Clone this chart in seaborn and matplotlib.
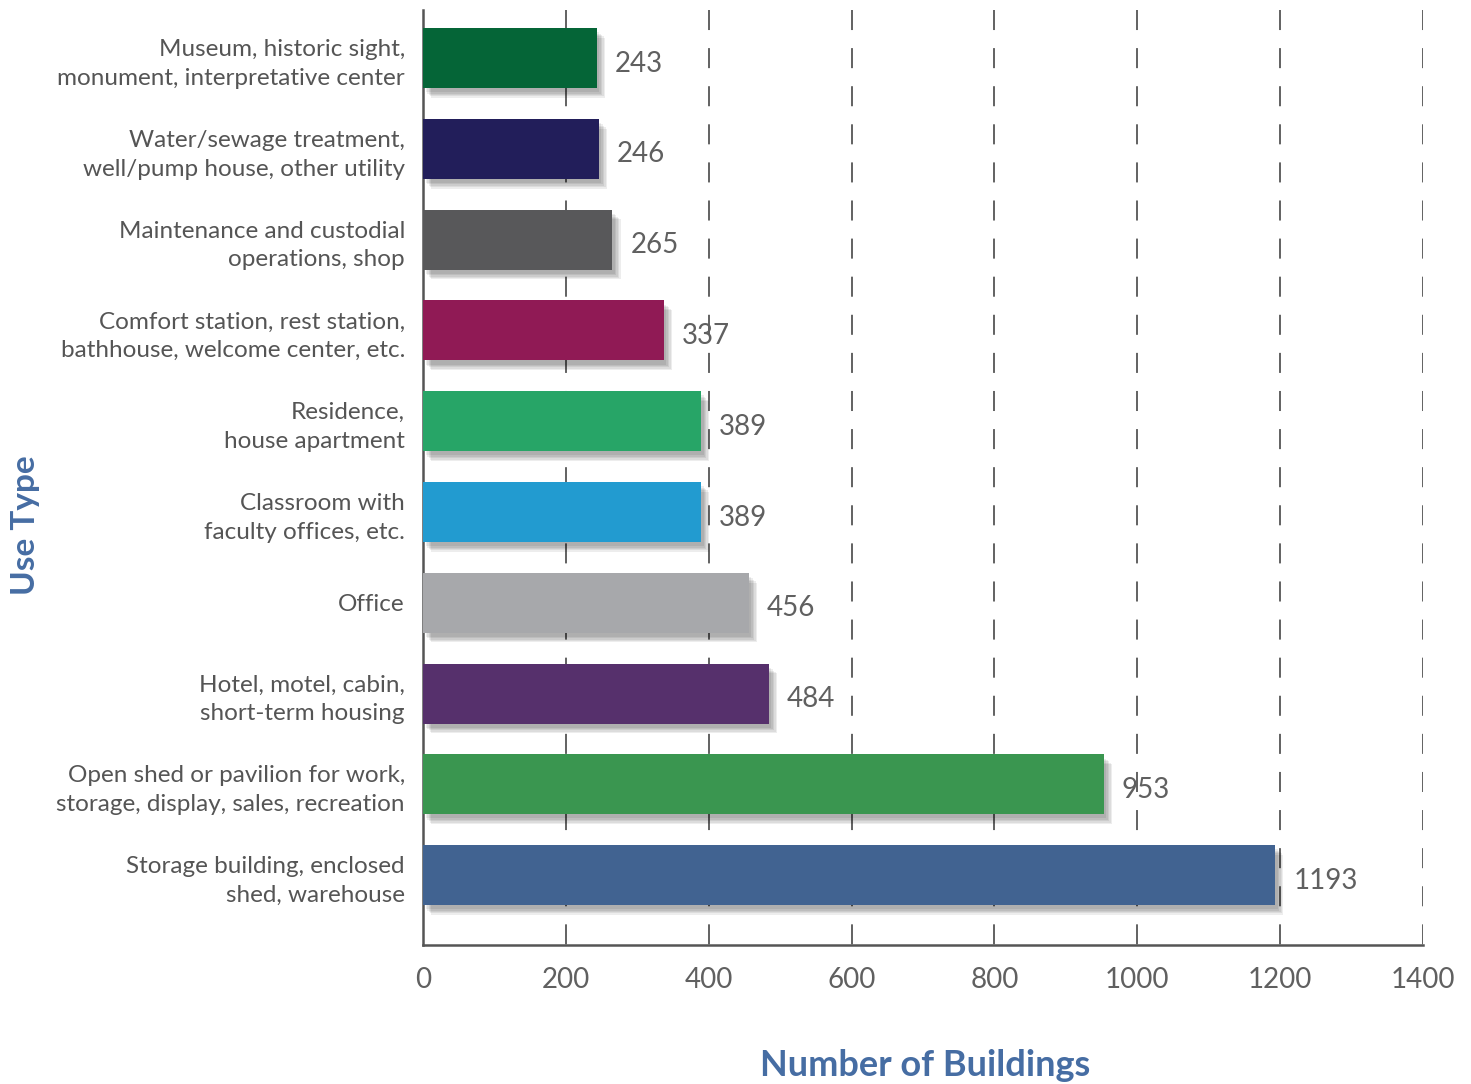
import matplotlib
matplotlib.use("Agg")
import matplotlib.pyplot as plt
import matplotlib.patheffects as pe
import seaborn as sns
import pandas as pd

categories = [
    "Museum, historic sight,\nmonument, interpretative center",
    "Water/sewage treatment,\nwell/pump house, other utility",
    "Maintenance and custodial\noperations, shop",
    "Comfort station, rest station,\nbathhouse, welcome center, etc.",
    "Residence,\nhouse apartment",
    "Classroom with\nfaculty offices, etc.",
    "Office",
    "Hotel, motel, cabin,\nshort-term housing",
    "Open shed or pavilion for work,\nstorage, display, sales, recreation",
    "Storage building, enclosed\nshed, warehouse",
]
values = [243, 246, 265, 337, 389, 389, 456, 484, 953, 1193]
colors = ["#056537", "#221e5a", "#58585a", "#901a55", "#27a567",
          "#229bd0", "#a7a8ab", "#56306c", "#3a9650", "#416391"]
x_ticks = [0, 200, 400, 600, 800, 1000, 1200, 1400]

df = pd.DataFrame({"Use Type": categories, "Number of Buildings": values})

sns.set_theme(style="white")
plt.rcParams["font.family"] = ["Lato", "DejaVu Sans"]

fig = plt.figure(figsize=(14.71, 10.84), dpi=100)
ax = fig.add_axes([423 / 1471, 1 - 945 / 1084, 1000 / 1471, 935 / 1084])

sns.barplot(data=df, y="Use Type", x="Number of Buildings", hue="Use Type",
            order=categories, hue_order=categories,
            palette=dict(zip(categories, colors)), orient="h",
            width=0.66, saturation=1, legend=False, ax=ax, zorder=3,
            linewidth=0, edgecolor="none")

shadow = [pe.SimplePatchShadow(offset=(o, -o - 1), shadow_rgbFace="black", alpha=0.07)
          for o in (6, 5, 4, 3, 2)] + [pe.Normal()]
for p in ax.patches:
    p.set_path_effects(shadow)

for c in ax.containers:
    anns = ax.bar_label(c, padding=13, fontsize=20, color="#606060", zorder=5)
    for a in anns:
        a.xyann = (13, -4)

ax.set_xlim(0, 1400)
ax.set_ylim(9.77, -0.53)
ax.set_xticks(x_ticks)
ax.set_xticklabels([str(t) for t in x_ticks])

for t in x_ticks[1:]:
    ax.axvline(t, ymin=1, ymax=0, color="#555555", lw=1.3,
               linestyle=(0, (11.1, 10)), zorder=1)

for s in ["top", "right"]:
    ax.spines[s].set_visible(False)
for s in ["left", "bottom"]:
    ax.spines[s].set_color("#555555")
    ax.spines[s].set_linewidth(1.8)

ax.tick_params(axis="x", length=0, pad=16, labelsize=20, labelcolor="#606060")
ax.tick_params(axis="y", length=0, pad=13, labelsize=17.5, labelcolor="#555555")
for lab in ax.get_yticklabels():
    lab.set_linespacing(1.45)
ax.set_xlabel("")
ax.set_ylabel("")

fig.text(925 / 1471, 1 - 1066 / 1084, "Number of Buildings", ha="center", va="center",
         fontsize=26, fontweight="bold", color="#466da3")
fig.text(25 / 1471, 1 - 525 / 1084, "Use Type", ha="center", va="center", rotation=90,
         fontsize=24, fontweight="bold", color="#466da3")

fig.savefig("out.png", dpi=100)
